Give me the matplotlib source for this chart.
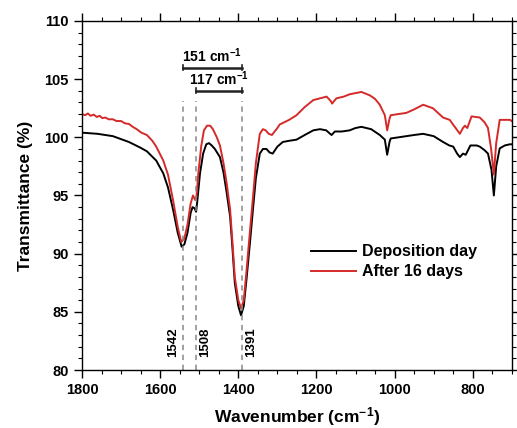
import numpy as np
import matplotlib
matplotlib.use("Agg")
import matplotlib.pyplot as plt
from matplotlib.ticker import MultipleLocator

# wavenumber (cm-1) and transmittance (%)
wn_dep = [1800, 1760, 1721, 1680, 1650, 1634, 1610, 1592, 1580, 1567, 1555, 1545,
          1538, 1530, 1522, 1517, 1512, 1508, 1505, 1498, 1490, 1482, 1475, 1468,
          1460, 1447, 1438, 1430, 1421, 1415, 1409, 1400, 1393, 1386, 1379, 1370,
          1362, 1355, 1345, 1337, 1328, 1320, 1312, 1300, 1286, 1270, 1251, 1230,
          1208, 1191, 1175, 1165, 1161, 1153, 1135, 1115, 1100, 1085, 1060, 1038,
          1025, 1019, 1013, 1010, 990, 970, 950, 927, 900, 876, 860, 850, 840, 833,
          825, 818, 806, 790, 782, 770, 761, 752, 746, 740, 731, 718, 705, 700]
T_dep = [100.4, 100.3, 100.1, 99.6, 99.1, 98.8, 98.0, 96.9, 95.7, 93.8, 91.8, 90.6,
         90.8, 91.8, 93.5, 94.0, 93.9, 93.6, 94.5, 96.9, 98.6, 99.4, 99.5, 99.3,
         99.0, 98.3, 97.0, 95.3, 93.2, 90.5, 87.5, 85.5, 84.7, 85.5, 87.8, 91.0,
         94.0, 96.5, 98.6, 99.0, 99.0, 98.7, 98.6, 99.2, 99.6, 99.7, 99.8, 100.2,
         100.6, 100.7, 100.6, 100.3, 100.2, 100.5, 100.5, 100.6, 100.8, 100.9, 100.7, 100.2,
         99.8, 98.5, 99.6, 99.9, 100.0, 100.1, 100.2, 100.3, 100.1, 99.6, 99.3, 99.2, 98.6, 98.3,
         98.6, 98.5, 99.3, 99.3, 99.2, 98.9, 98.6, 97.2, 95.0, 97.5, 99.05, 99.3, 99.4, 99.4]

wn_16 = [1800, 1792, 1785, 1778, 1770, 1762, 1755, 1748, 1740, 1732, 1721, 1712,
         1700, 1690, 1680, 1670, 1660, 1648, 1634, 1620, 1610, 1592, 1580, 1567,
         1555, 1546, 1538, 1530, 1522, 1516, 1510, 1507, 1502, 1495, 1488, 1480,
         1472, 1465, 1455, 1447, 1438, 1430, 1421, 1415, 1409, 1400, 1393, 1386,
         1379, 1370, 1362, 1355, 1345, 1337, 1330, 1322, 1314, 1300, 1294, 1270,
         1251, 1230, 1208, 1174, 1163, 1160, 1149, 1130, 1115, 1100, 1085, 1063,
         1050, 1038, 1025, 1019, 1013, 1010, 990, 970, 950, 927, 902, 876, 859,
         846, 833, 825, 820, 814, 803, 782, 770, 761, 753, 746, 740, 731, 718, 705, 700]
T_16 = [102.0, 101.9, 102.05, 101.85, 101.95, 101.75, 101.85, 101.65, 101.7, 101.55, 101.55, 101.4,
        101.4, 101.2, 101.15, 100.9, 100.7, 100.4, 100.2, 99.7, 99.2, 98.0, 96.8, 94.6,
        92.3, 91.0, 91.3, 92.5, 94.3, 95.0, 94.6, 94.9, 97.0, 99.2, 100.6, 101.0,
        101.0, 100.7, 100.0, 99.3, 97.8, 96.1, 93.8, 91.0, 88.0, 86.0, 85.3, 86.0,
        88.5, 92.0, 95.0, 97.8, 100.3, 100.7, 100.6, 100.3, 100.2, 100.8, 101.1, 101.5,
        101.9, 102.6, 103.2, 103.5, 103.1, 102.9, 103.35, 103.5, 103.7, 103.8, 103.9, 103.6,
        103.3, 102.8, 101.9, 100.6, 101.6, 101.9, 102.0, 102.1, 102.4, 102.8, 102.5, 101.7, 101.5,
        100.9, 100.3, 100.8, 101.0, 100.8, 101.8, 101.7, 101.3, 100.8, 99.0, 96.8, 99.5, 101.5, 101.5, 101.5, 101.4]

peaks = [1542, 1508, 1391]
peak_labels = ["1542", "1508", "1391"]
spacings = [(1542, 1391, "151 cm$^{-1}$", 106.0), (1508, 1391, "117 cm$^{-1}$", 104.0)]

plt.rcParams['font.family'] = ['Liberation Sans', 'DejaVu Sans']
plt.rcParams['font.weight'] = 'bold'
plt.rcParams['mathtext.fontset'] = 'custom'
plt.rcParams['mathtext.rm'] = 'Liberation Sans:bold'
plt.rcParams['mathtext.bf'] = 'Liberation Sans:bold'
plt.rcParams['mathtext.it'] = 'Liberation Sans:bold'

fig = plt.figure(figsize=(5.17, 4.28), dpi=100)
ax = fig.add_axes([0.1586, 0.1355, 0.8314, 0.8155])

ax.plot(wn_dep, T_dep, color='black', lw=1.4, label='Deposition day')
ax.plot(wn_16, T_16, color='#d42a2a', lw=1.4, label='After 16 days')

for p, lab in zip(peaks, peak_labels):
    ax.plot([p, p], [80, 103.1], ls=(0, (3.5, 3)), color='#888888', lw=1.1)
    if lab == "1542":
        ax.text(p + 9, 82.4, lab, rotation=90, ha='right', va='center', fontsize=9.5)
    else:
        ax.text(p - 9, 82.4, lab, rotation=90, ha='left', va='center', fontsize=9.5)

for x1, x2, lab, yb in spacings:
    ax.plot([x1, x2], [yb, yb], color='#222222', lw=1.8)
    ax.plot([x1, x1], [yb - 0.22, yb + 0.22], color='#222222', lw=1.2)
    ax.plot([x2, x2], [yb - 0.22, yb + 0.22], color='#222222', lw=1.2)
    ax.text((x1 + x2) / 2, yb + 0.25, lab, ha='center', va='bottom', fontsize=10)

ax.set_xlim(1800, 700)
ax.set_ylim(80, 110)
ax.xaxis.set_major_locator(MultipleLocator(200))
ax.xaxis.set_minor_locator(MultipleLocator(50))
ax.yaxis.set_major_locator(MultipleLocator(5))
ax.yaxis.set_minor_locator(MultipleLocator(1))
ax.tick_params(which='both', direction='out', top=True, right=True, labelsize=10.5)
ax.tick_params(which='major', length=6, width=1)
ax.tick_params(which='minor', length=3, width=0.8)
for s in ax.spines.values():
    s.set_linewidth(1.0)

ax.set_xlabel('Wavenumber (cm$^{-1}$)', fontsize=12.5, fontweight='bold', labelpad=6)
ax.set_ylabel('Transmittance (%)', fontsize=12.5, fontweight='bold', labelpad=8)

ax.legend(loc='center left', bbox_to_anchor=(0.5, 0.31), frameon=False,
          fontsize=11.5, handlelength=2.8, handletextpad=0.4, labelspacing=0.3)

fig.savefig('out.png', dpi=100)
